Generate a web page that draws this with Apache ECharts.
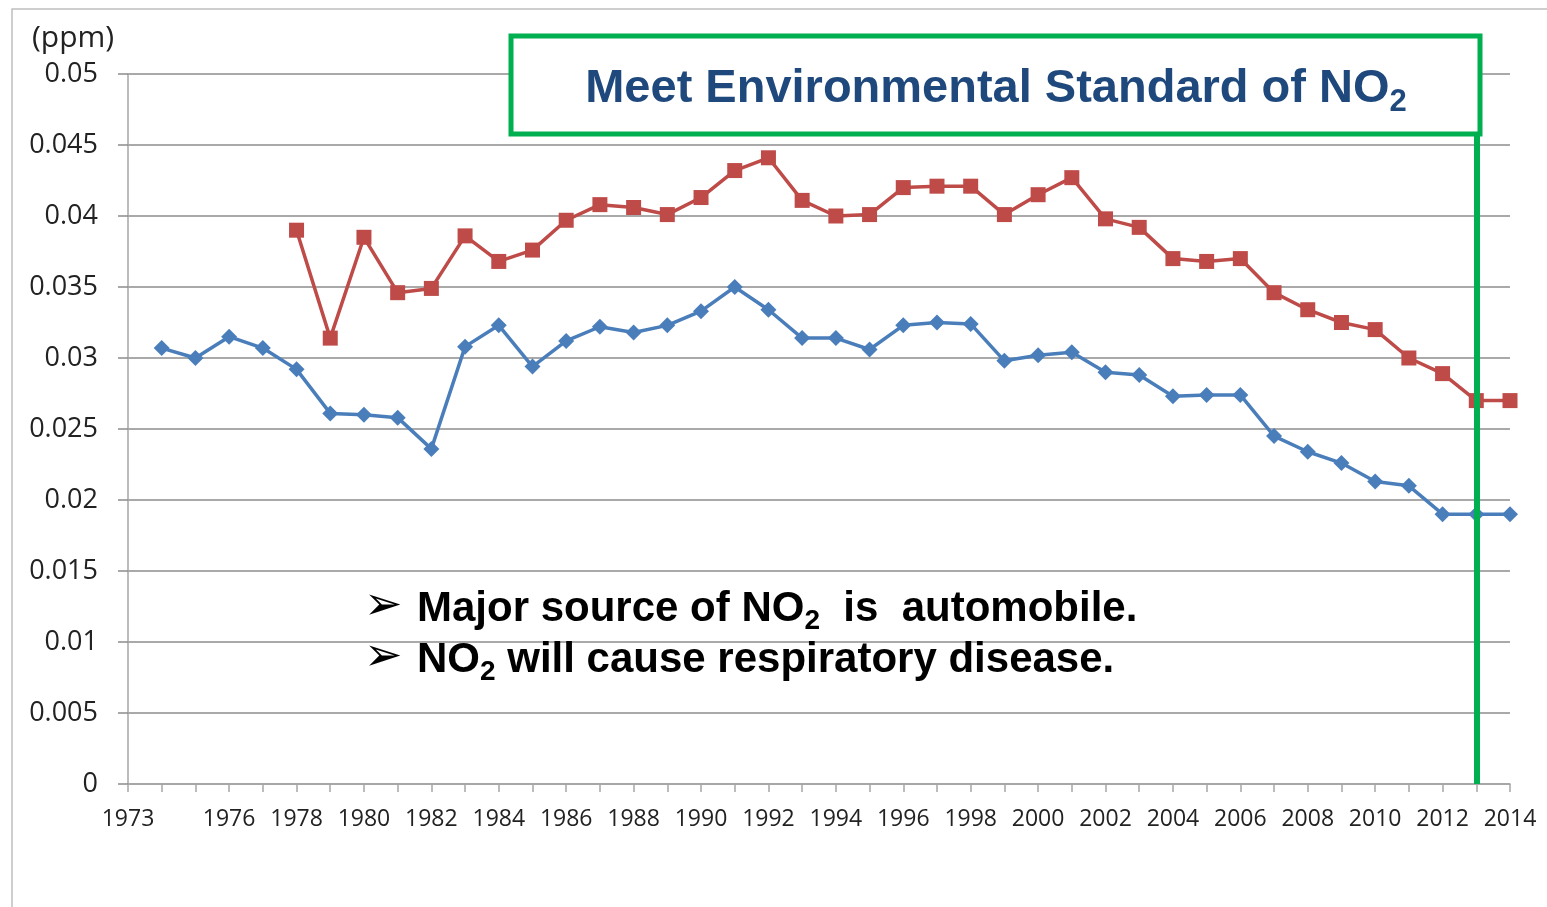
<!DOCTYPE html>
<html>
<head>
<meta charset="utf-8">
<title>NO2 ppm</title>
<script src="https://cdn.jsdelivr.net/npm/echarts@6/dist/echarts.min.js"></script>
<style>
  html, body { margin: 0; padding: 0; background: #fff; }
  #chart { width: 1547px; height: 907px; }
</style>
</head>
<body>
<div id="chart"></div>
<script>
  // years on the category axis (1973 is an empty slot at the axis start)
  var years = [];
  for (var y = 1973; y <= 2014; y++) years.push(String(y));

  // blue line, 1974 - 2014
  var blueValues = ['-',
    0.0307, 0.0300, 0.0315, 0.0307, 0.0292, 0.0261, 0.0260, 0.0258, 0.0236, 0.0308,
    0.0323, 0.0294, 0.0312, 0.0322, 0.0318, 0.0323, 0.0333, 0.0350, 0.0334, 0.0314,
    0.0314, 0.0306, 0.0323, 0.0325, 0.0324, 0.0298, 0.0302, 0.0304, 0.0290, 0.0288,
    0.0273, 0.0274, 0.0274, 0.0245, 0.0234, 0.0226, 0.0213, 0.0210, 0.0190, 0.0190,
    0.0190];

  // red line, 1978 - 2014
  var redValues = ['-', '-', '-', '-', '-',
    0.0390, 0.0314, 0.0385, 0.0346, 0.0349, 0.0386, 0.0368, 0.0376, 0.0397, 0.0408,
    0.0406, 0.0401, 0.0413, 0.0432, 0.0441, 0.0411, 0.0400, 0.0401, 0.0420, 0.0421,
    0.0421, 0.0401, 0.0415, 0.0427, 0.0398, 0.0392, 0.0370, 0.0368, 0.0370, 0.0346,
    0.0334, 0.0325, 0.0320, 0.0300, 0.0289, 0.0270, 0.0270];

  var standardYear = '2013';

  var chart = echarts.init(document.getElementById('chart'));

  var bulletRich = {
    m: { font: 'bold 42px "Liberation Sans"', fill: '#000', lineHeight: 52 },
    s: { font: 'bold 28px "Liberation Sans"', fill: '#000', lineHeight: 28, verticalAlign: 'bottom' }
  };

  var option = {
    animation: false,
    backgroundColor: '#ffffff',
    grid: { left: 128, right: 37, top: 74, bottom: 123 },
    xAxis: {
      type: 'category',
      data: years,
      boundaryGap: false,
      axisLine: { lineStyle: { color: '#a6a6a6', width: 1.5 } },
      axisTick: { interval: 0, length: 8, lineStyle: { color: '#a6a6a6', width: 1.5 } },
      axisLabel: {
        interval: function (i, v) { return v === '1973' || (+v >= 1976 && +v % 2 === 0); },
        fontFamily: 'Open Sans', fontSize: 23, color: '#222', margin: 24
      },
      splitLine: { show: false }
    },
    yAxis: {
      type: 'value',
      min: 0, max: 0.05, interval: 0.005,
      axisLine: { show: true, lineStyle: { color: '#a6a6a6', width: 1.5 } },
      axisTick: { show: true, inside: false, length: 10, lineStyle: { color: '#8c8c8c', width: 1.5 } },
      axisLabel: {
        fontFamily: 'Open Sans', fontSize: 27, color: '#222', margin: 30,
        formatter: function (v) { return String(parseFloat(v.toFixed(3))); }
      },
      splitLine: { lineStyle: { color: '#8c8c8c', width: 1.5 } }
    },
    series: [
      {
        name: 'blue', type: 'line', data: blueValues,
        symbol: 'diamond', symbolSize: 16,
        itemStyle: { color: '#4a7ebb' },
        lineStyle: { color: '#4a7ebb', width: 3.5 }
      },
      {
        name: 'red', type: 'line', data: redValues,
        symbol: 'rect', symbolSize: 15,
        itemStyle: { color: '#be4b48' },
        lineStyle: { color: '#be4b48', width: 3.5 },
        markLine: {
          silent: true, symbol: 'none', label: { show: false },
          lineStyle: { color: '#00b050', width: 6, type: 'solid' },
          data: [{ xAxis: standardYear }]
        }
      }
    ],
    graphic: [
      {
        type: 'rect', z: 0, silent: true,
        shape: { x: 12, y: 9, width: 1700, height: 1000 },
        style: { fill: 'none', stroke: '#bfbfbf', lineWidth: 1.5 }
      },
      {
        type: 'text', left: 32, top: 23,
        style: { text: '(ppm)', font: '30px "Open Sans"', fill: '#222' }
      },
      {
        type: 'rect', z: 100,
        shape: { x: 511, y: 36, width: 969, height: 98 },
        style: { fill: '#ffffff', stroke: '#00b050', lineWidth: 5 }
      },
      {
        type: 'text', z: 101, x: 996, y: 89,
        style: {
          text: '{m|Meet Environmental Standard of NO}{s|2}',
          align: 'center', verticalAlign: 'middle',
          rich: {
            m: { font: 'bold 47px "Liberation Sans"', fill: '#1f497d', lineHeight: 58 },
            s: { font: 'bold 31px "Liberation Sans"', fill: '#1f497d', lineHeight: 31, verticalAlign: 'bottom' }
          }
        }
      },
      {
        type: 'text', z: 101, x: 364, y: 607,
        style: { text: '➢', font: '46px "DejaVu Sans"', fill: '#000', align: 'left', verticalAlign: 'middle' }
      },
      {
        type: 'text', z: 101, x: 364, y: 658,
        style: { text: '➢', font: '46px "DejaVu Sans"', fill: '#000', align: 'left', verticalAlign: 'middle' }
      },
      {
        type: 'text', z: 101, x: 417, y: 609,
        style: {
          text: '{m|Major source of NO}{s|2}{m|  is  automobile.}',
          align: 'left', verticalAlign: 'middle', rich: bulletRich
        }
      },
      {
        type: 'text', z: 101, x: 417, y: 660,
        style: {
          text: '{m|NO}{s|2}{m| will cause respiratory disease.}',
          align: 'left', verticalAlign: 'middle', rich: bulletRich
        }
      }
    ]
  };

  chart.setOption(option);
  window.addEventListener('resize', function () {
    chart.resize();
  });
</script>
</body>
</html>
